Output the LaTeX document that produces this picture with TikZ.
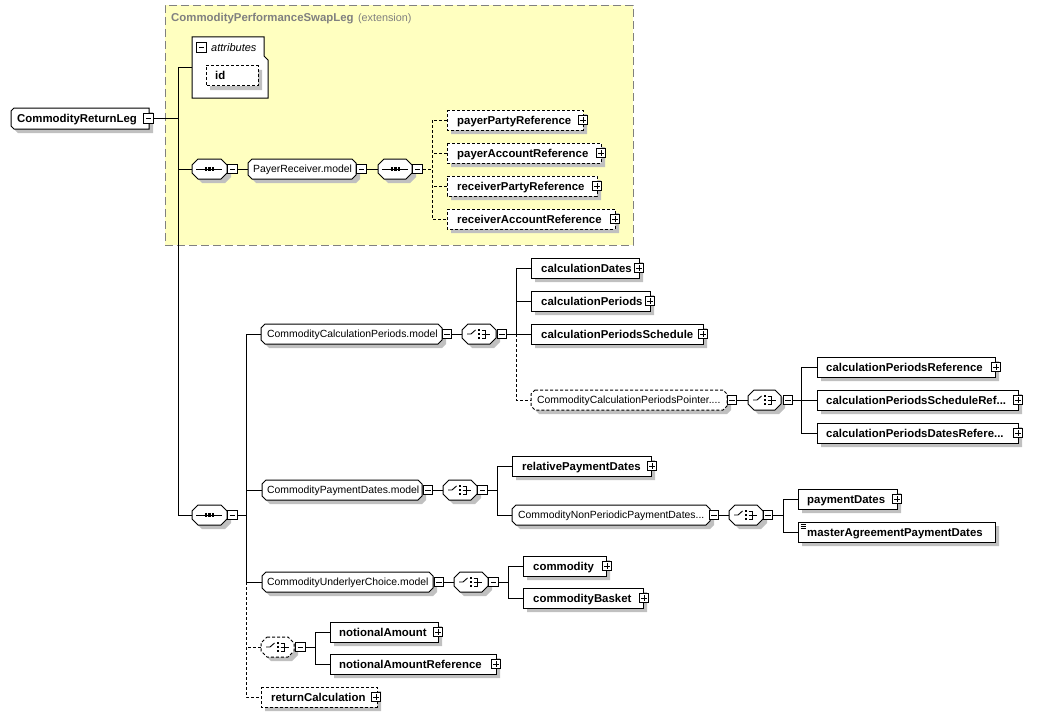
\documentclass[tikz,border=0pt]{standalone}
\usepackage{fontspec}
\setmainfont{Liberation Sans}
\usetikzlibrary{calc}
\definecolor{extfill}{RGB}{255,255,192}
\definecolor{shad}{RGB}{192,192,192}
\definecolor{extline}{RGB}{128,128,128}
\tikzset{
  conn/.style={line width=1pt, black},
  dsh/.style={dash pattern=on 3pt off 2pt},
  dconn/.style={conn, dsh},
  bfont/.style={font=\bfseries\fontsize{11.4}{13}\selectfont},
  rfont/.style={font=\fontsize{10.4}{12}\selectfont},
  lbl/.style={inner sep=0pt, anchor=base west},
  anchorbox/.style={inner sep=0pt, draw=none, fill=none},
  mbox/.style={draw, fill=white, line width=1.2pt, minimum size=9.5pt, inner sep=0pt,
    path picture={\draw[line width=1pt] ([xshift=2pt]path picture bounding box.west) -- ([xshift=-2pt]path picture bounding box.east);}},
  pbox/.style={draw, fill=white, line width=1.2pt, minimum size=9.5pt, inner sep=0pt,
    path picture={\draw[line width=1pt] ([xshift=2pt]path picture bounding box.west) -- ([xshift=-2pt]path picture bounding box.east);
      \draw[line width=1pt] ([yshift=-2pt]path picture bounding box.north) -- ([yshift=2pt]path picture bounding box.south);}},
}
% name, style, x1, y1, x2, y2, cut
\newcommand{\Shp}[7]{%
  \fill[shad] (#3+#7+4,#4+4) -- (#5-#7+4,#4+4) -- (#5+4,#4+#7+4) -- (#5+4,#6-#7+4) -- (#5-#7+4,#6+4) -- (#3+#7+4,#6+4) -- (#3+4,#6-#7+4) -- (#3+4,#4+#7+4) -- cycle;
  \draw[fill=white, line width=1pt, #2] (#3+#7,#4) -- (#5-#7,#4) -- (#5,#4+#7) -- (#5,#6-#7) -- (#5-#7,#6) -- (#3+#7,#6) -- (#3,#6-#7) -- (#3,#4+#7) -- cycle;
  \node[anchorbox, minimum width=#5-#3, minimum height=#6-#4] (#1) at ({(#3+#5)/2},{(#4+#6)/2}) {};
}
% sequence icon: x1, yc
\newcommand{\SeqIcon}[2]{%
  \draw[line width=1pt] (#1+4,#2) -- (#1+30,#2);
  \fill (#1+12.5,#2-1.6) rectangle (#1+15,#2+1.6);
  \fill (#1+16,#2-1.6) rectangle (#1+18.5,#2+1.6);
  \fill (#1+19.5,#2-1.6) rectangle (#1+22,#2+1.6);
}
% choice icon: x1, yc
\newcommand{\ChIcon}[2]{%
  \draw[line width=0.9pt] (#1+5,#2) -- (#1+9,#2) -- (#1+13.5,#2-4);
  \fill (#1+15.5,#2-5) rectangle (#1+18,#2-2.6);
  \fill (#1+15.5,#2-1.2) rectangle (#1+18,#2+1.2);
  \fill (#1+15.5,#2+2.6) rectangle (#1+18,#2+5);
  \draw[line width=0.9pt] (#1+19.5,#2-4) -- (#1+23,#2-4) -- (#1+23,#2+4) -- (#1+19.5,#2+4);
  \draw[line width=0.9pt] (#1+19.5,#2) -- (#1+27.5,#2);
}
\begin{document}
\begin{tikzpicture}[x=1pt,y=-1pt]
\useasboundingbox (0,0) rectangle (1047,717);
% extension container
\node[draw=extline, dash pattern=on 8pt off 4pt, fill=extfill, line width=0.8pt, minimum width=468pt, minimum height=240pt, inner sep=0pt] (ext) at (399,125) {};
\node[lbl, bfont, text=extline] (extt) at (171,22) {CommodityPerformanceSwapLeg};
\node[lbl, font=\fontsize{10.8}{12}\selectfont, text=extline] (extt2) at ($(extt.base east)+(4,0)$) {(extension)};

% root element
\fill[shad] (18,112) -- (153,112) -- (153,133) -- (18,133) -- (15,130) -- (15,115) -- cycle;
\draw[fill=white, line width=1pt] (14,108) -- (149,108) -- (149,129) -- (14,129) -- (11,126) -- (11,111) -- cycle;
\node[anchorbox, minimum width=138, minimum height=21] (crl) at (80,118.5) {};
\node[lbl, bfont] (crlt) at (17,122.5) {CommodityReturnLeg};
\node[mbox] (crlm) at (148.5,118.5) {};

% attributes
\draw[fill=white, line width=1pt] (192,37) -- (264,37) -- (264,56) -- (268,60) -- (268,98) -- (192,98) -- cycle;
\node[anchorbox, minimum width=76, minimum height=61] (attrs) at (230,67.5) {};
\node[mbox] (attrsm) at (201.5,47.5) {};
\node[lbl, font=\itshape\fontsize{11}{13}\selectfont] (attrst) at (211,51.5) {attributes};
\Shp{id}{dsh}{206}{66}{258}{86}{0}
\node[lbl, bfont] (idt) at (215,80) {id};

% PayerReceiver
\Shp{seqA}{}{192}{159}{227}{179}{6}
\SeqIcon{192}{169}
\node[mbox] (seqAm) at (232.5,169) {};
\Shp{prm}{}{248}{159}{356}{179}{4}
\node[lbl, rfont] (prmt) at (253,172.8) {PayerReceiver.model};
\node[mbox] (prmm) at (361.5,169) {};
\Shp{seqB}{}{378}{159}{412}{179}{6}
\SeqIcon{378}{169}
\node[mbox] (seqBm) at (417.5,169) {};

\Shp{ppr}{dsh}{447}{110}{583}{130}{0}
\node[lbl, bfont] (pprt) at (457,124) {payerPartyReference};
\node[pbox] (pprp) at (583,120) {};
\Shp{par}{dsh}{447}{143}{601}{163}{0}
\node[lbl, bfont] (part) at (457,157) {payerAccountReference};
\node[pbox] (parp) at (601,153) {};
\Shp{rpr}{dsh}{447}{176}{597}{196}{0}
\node[lbl, bfont] (rprt) at (457,190) {receiverPartyReference};
\node[pbox] (rprp) at (597,186) {};
\Shp{rar}{dsh}{447}{209}{615}{229}{0}
\node[lbl, bfont] (rart) at (457,223) {receiverAccountReference};
\node[pbox] (rarp) at (615,219) {};

% main sequence
\Shp{seqC}{}{192}{505}{227}{525}{6}
\SeqIcon{192}{515}
\node[mbox] (seqCm) at (232.5,515) {};

% CommodityCalculationPeriods.model
\Shp{ccp}{}{261}{324}{442}{344}{4}
\node[lbl, rfont] (ccpt) at (267,337.8) {CommodityCalculationPeriods.model};
\node[mbox] (ccpm) at (447,334) {};
\Shp{ch1}{}{462}{324}{496}{344}{6}
\ChIcon{462}{334}
\node[mbox] (ch1m) at (502,334) {};
\Shp{cd}{}{531}{258}{639}{278}{0}
\node[lbl, bfont] (cdt) at (541,272) {calculationDates};
\node[pbox] (cdp) at (639,268) {};
\Shp{cp}{}{531}{291}{650}{311}{0}
\node[lbl, bfont] (cpt) at (541,305) {calculationPeriods};
\node[pbox] (cpp) at (650,301) {};
\Shp{cps}{}{531}{324}{703}{344}{0}
\node[lbl, bfont] (cpst) at (541,338) {calculationPeriodsSchedule};
\node[pbox] (cpsp) at (703,334) {};
\Shp{ccpp}{dsh}{531}{390}{727}{410}{4}
\node[lbl, rfont] (ccppt) at (537,403.8) {CommodityCalculationPeriodsPointer....};
\node[mbox] (ccppm) at (732,400) {};
\Shp{ch2}{}{748}{390}{781}{410}{6}
\ChIcon{748}{400}
\node[mbox] (ch2m) at (788,400) {};
\Shp{cpr}{}{817}{357}{995}{377}{0}
\node[lbl, bfont] (cprt) at (826,371) {calculationPeriodsReference};
\node[pbox] (cprp) at (996,367) {};
\Shp{cpsr}{}{817}{390}{1018}{410}{0}
\node[lbl, bfont] (cpsrt) at (826,404) {calculationPeriodsScheduleRef...};
\node[pbox] (cpsrp) at (1018,400) {};
\Shp{cpdr}{}{817}{423}{1018}{443}{0}
\node[lbl, bfont] (cpdrt) at (826,437) {calculationPeriodsDatesRefere...};
\node[pbox] (cpdrp) at (1018,433) {};

% CommodityPaymentDates.model
\Shp{cpdm}{}{262}{480}{422}{500}{4}
\node[lbl, rfont] (cpdmt) at (267,493.8) {CommodityPaymentDates.model};
\node[mbox] (cpdmm) at (428,490) {};
\Shp{ch3}{}{443}{480}{477}{500}{6}
\ChIcon{443}{490}
\node[mbox] (ch3m) at (482.5,490) {};
\Shp{rpd}{}{512}{456}{651}{476}{0}
\node[lbl, bfont] (rpdt) at (522,470) {relativePaymentDates};
\node[pbox] (rpdp) at (652,466) {};
\Shp{cnp}{}{512}{505}{710}{525}{4}
\node[lbl, rfont] (cnpt) at (518,518.8) {CommodityNonPeriodicPaymentDates...};
\node[mbox] (cnpm) at (714,515) {};
\Shp{ch4}{}{729}{505}{763}{525}{6}
\ChIcon{729}{515}
\node[mbox] (ch4m) at (768,515) {};
\Shp{pd}{}{798}{489}{897}{509}{0}
\node[lbl, bfont] (pdt) at (807,503) {paymentDates};
\node[pbox] (pdp) at (897,499) {};
\Shp{mapd}{}{798}{522}{995}{542}{0}
\draw[line width=0.7pt] (800.5,524.5) -- (806,524.5) (800.5,526.5) -- (806,526.5) (800.5,528.5) -- (806,528.5);
\node[lbl, bfont] (mapdt) at (807,536) {masterAgreementPaymentDates};

% CommodityUnderlyerChoice.model
\Shp{cuc}{}{262}{572}{433}{592}{4}
\node[lbl, rfont] (cuct) at (267,585.8) {CommodityUnderlyerChoice.model};
\node[mbox] (cucm) at (439,582) {};
\Shp{ch5}{}{454}{572}{488}{592}{6}
\ChIcon{454}{582}
\node[mbox] (ch5m) at (493.5,582) {};
\Shp{com}{}{523}{556}{606}{576}{0}
\node[lbl, bfont] (comt) at (533,570) {commodity};
\node[pbox] (comp) at (607,566) {};
\Shp{cb}{}{523}{588}{643}{608}{0}
\node[lbl, bfont] (cbt) at (533,602) {commodityBasket};
\node[pbox] (cbp) at (644,598) {};

% optional choice
\Shp{ch6}{dsh}{261}{637}{294}{657}{6}
\ChIcon{261}{647}
\node[mbox] (ch6m) at (300.5,647) {};
\Shp{na}{}{330}{622}{438}{642}{0}
\node[lbl, bfont] (nat) at (339,636) {notionalAmount};
\node[pbox] (nap) at (438,632) {};
\Shp{nar}{}{330}{654}{496}{674}{0}
\node[lbl, bfont] (nart) at (339,668) {notionalAmountReference};
\node[pbox] (narp) at (496,664) {};
\Shp{rc}{dsh}{261}{687}{377}{707}{0}
\node[lbl, bfont] (rct) at (271,701) {returnCalculation};
\node[pbox] (rcp) at (376,697) {};

% bus coordinates
\coordinate (bus1) at (178,0);
\coordinate (busP) at (432,0);
\coordinate (bus2) at (246,0);
\coordinate (bus3) at (516,0);
\coordinate (bus4) at (801,0);
\coordinate (bus5) at (497,0);
\coordinate (bus6) at (783,0);
\coordinate (bus7) at (508,0);
\coordinate (bus8) at (315,0);

% connectors
\draw[conn] (crlm.east) -- (crlm.east -| bus1);
\draw[conn] (attrs.west) -| (bus1 |- seqC.west) -- (seqC.west);
\draw[conn] (seqA.west) -- (seqA.west -| bus1);
\draw[conn] (seqAm.east) -- (prm.west);
\draw[conn] (prmm.east) -- (seqB.west);
\draw[dconn] (seqBm.east) -- (seqBm.east -| busP);
\draw[dconn] (ppr.west) -| (busP |- rar.west) -- (rar.west);
\draw[dconn] (par.west) -- (par.west -| busP);
\draw[dconn] (rpr.west) -- (rpr.west -| busP);

\draw[conn] (seqCm.east) -- (seqCm.east -| bus2);
\draw[conn] (ccp.west) -| (bus2 |- cuc.west) -- (cuc.west);
\draw[conn] (cpdm.west) -- (cpdm.west -| bus2);
\draw[dconn] (bus2 |- cuc.west) |- (rc.west);
\draw[dconn] (ch6.west) -- (ch6.west -| bus2);

\draw[conn] (ccpm.east) -- (ch1.west);
\draw[conn] (ch1m.east) -- (ch1m.east -| bus3);
\draw[conn] (cd.west) -| (bus3 |- cps.west) -- (cps.west);
\draw[conn] (cp.west) -- (cp.west -| bus3);
\draw[dconn] (bus3 |- cps.west) |- (ccpp.west);

\draw[conn] (ccppm.east) -- (ch2.west);
\draw[conn] (ch2m.east) -- (ch2m.east -| bus4);
\draw[conn] (cpr.west) -| (bus4 |- cpdr.west) -- (cpdr.west);
\draw[conn] (cpsr.west) -- (cpsr.west -| bus4);

\draw[conn] (cpdmm.east) -- (ch3.west);
\draw[conn] (ch3m.east) -- (ch3m.east -| bus5);
\draw[conn] (rpd.west) -| (bus5 |- cnp.west) -- (cnp.west);

\draw[conn] (cnpm.east) -- (ch4.west);
\draw[conn] (ch4m.east) -- (ch4m.east -| bus6);
\draw[conn] (pd.west) -| (bus6 |- mapd.west) -- (mapd.west);

\draw[conn] (cucm.east) -- (ch5.west);
\draw[conn] (ch5m.east) -- (ch5m.east -| bus7);
\draw[conn] (com.west) -| (bus7 |- cb.west) -- (cb.west);

\draw[conn] (ch6m.east) -- (ch6m.east -| bus8);
\draw[conn] (na.west) -| (bus8 |- nar.west) -- (nar.west);
\end{tikzpicture}
\end{document}
